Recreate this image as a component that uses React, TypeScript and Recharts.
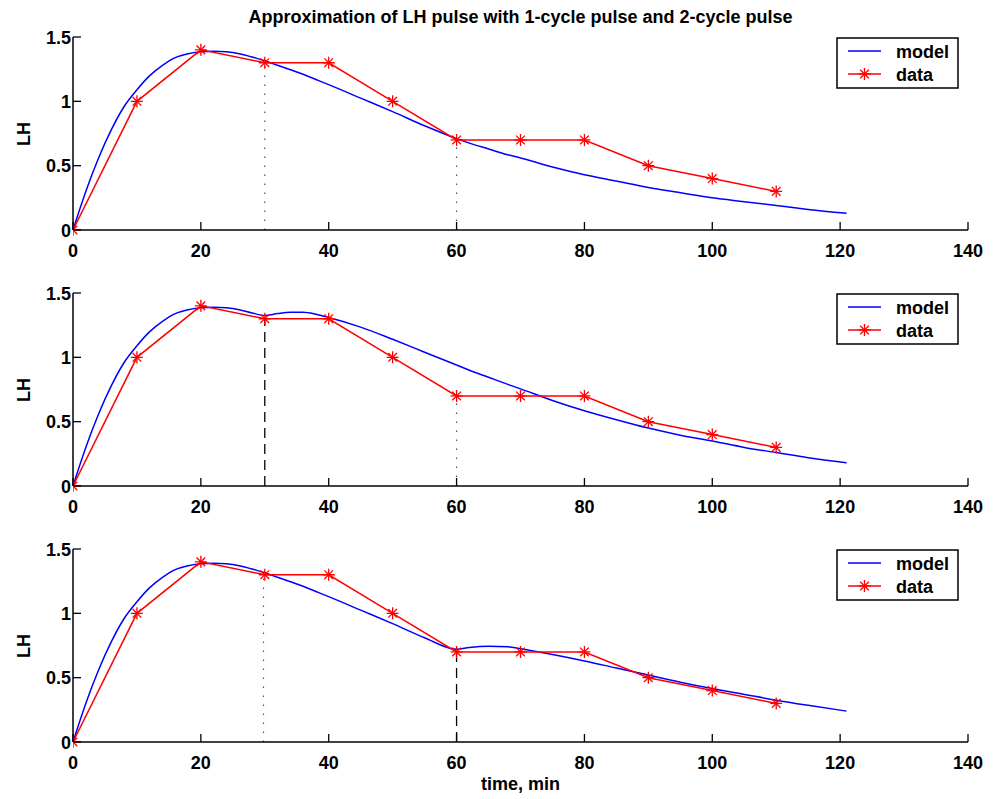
import React from "react";
import { Line, LineChart, ReferenceLine, XAxis, YAxis } from "recharts";

// measured LH samples (same in every panel)
const dataTimes = [0, 10, 20, 30, 40, 50, 60, 70, 80, 90, 100, 110];
const dataLH = [0, 1, 1.4, 1.3, 1.3, 1.0, 0.7, 0.7, 0.7, 0.5, 0.4, 0.3];

// model curves
const modelTimes = [
  0, 2, 4, 6, 8, 10, 12, 14, 16, 18, 20, 22, 24, 26, 28, 30, 32, 34, 36, 38, 40,
  45, 50, 55, 60, 62, 65, 68, 70, 75, 80, 85, 90, 95, 100, 105, 110, 115, 121,
];
const modelSingle = [
  0, 0.3, 0.56, 0.78, 0.96, 1.09, 1.2, 1.28, 1.34, 1.37, 1.385, 1.39, 1.385, 1.37,
  1.345, 1.315, 1.28, 1.245, 1.21, 1.17, 1.13, 1.025, 0.92, 0.81, 0.71, 0.675, 0.63,
  0.585, 0.56, 0.49, 0.43, 0.38, 0.33, 0.29, 0.25, 0.22, 0.19, 0.16, 0.13,
];
const modelPulse30 = [
  0, 0.3, 0.56, 0.78, 0.96, 1.09, 1.2, 1.28, 1.34, 1.37, 1.385, 1.39, 1.385, 1.37,
  1.345, 1.325, 1.34, 1.35, 1.35, 1.335, 1.31, 1.235, 1.14, 1.04, 0.94, 0.9, 0.845,
  0.79, 0.755, 0.665, 0.585, 0.515, 0.45, 0.395, 0.35, 0.3, 0.26, 0.22, 0.18,
];
const modelPulse60 = [
  0, 0.3, 0.56, 0.78, 0.96, 1.09, 1.2, 1.28, 1.34, 1.37, 1.385, 1.39, 1.385, 1.37,
  1.345, 1.315, 1.28, 1.245, 1.21, 1.17, 1.13, 1.025, 0.92, 0.81, 0.72, 0.735, 0.745,
  0.74, 0.725, 0.68, 0.63, 0.575, 0.52, 0.465, 0.415, 0.37, 0.325, 0.285, 0.24,
];

const xTicks = [0, 20, 40, 60, 80, 100, 120, 140];
const yTicks = [0, 0.5, 1, 1.5];

type Marker = { x: number; top: number; style: "dotted" | "dashed" };

const panels: { model: number[]; markers: Marker[] }[] = [
  {
    model: modelSingle,
    markers: [
      { x: 30, top: 1.3, style: "dotted" },
      { x: 60, top: 0.7, style: "dotted" },
    ],
  },
  {
    model: modelPulse30,
    markers: [
      { x: 30, top: 1.3, style: "dashed" },
      { x: 60, top: 0.7, style: "dotted" },
    ],
  },
  {
    model: modelPulse60,
    markers: [
      { x: 29.8, top: 1.3, style: "dotted" },
      { x: 60, top: 0.72, style: "dashed" },
    ],
  },
];

const FONT = "'Liberation Sans', Arial, Helvetica, sans-serif";
const PANEL_TOPS = [27, 283, 539];
const PLOT_H = 193;

function Star({ cx, cy, size = 6 }: { cx?: number; cy?: number; size?: number }) {
  if (cx == null || cy == null) return null;
  const d = size * 0.72;
  return (
    <g stroke="#ff0000" strokeWidth={1.3}>
      <line x1={cx - size} y1={cy} x2={cx + size} y2={cy} />
      <line x1={cx} y1={cy - size} x2={cx} y2={cy + size} />
      <line x1={cx - d} y1={cy - d} x2={cx + d} y2={cy + d} />
      <line x1={cx - d} y1={cy + d} x2={cx + d} y2={cy - d} />
    </g>
  );
}

function XTick({ x, y, payload }: any) {
  return (
    <g>
      <line x1={x} y1={y} x2={x} y2={y - 8} stroke="#000" strokeWidth={1.3} />
      <text x={x} y={y + 27} textAnchor="middle" fontFamily={FONT} fontWeight="bold" fontSize={18} fill="#000">
        {payload.value}
      </text>
    </g>
  );
}

function YTick({ x, y, payload }: any) {
  return (
    <g>
      <line x1={x} y1={y} x2={x + 8} y2={y} stroke="#000" strokeWidth={1.3} />
      <text x={x - 2} y={y + 6.5} textAnchor="end" fontFamily={FONT} fontWeight="bold" fontSize={18} fill="#000">
        {payload.value}
      </text>
    </g>
  );
}

function LegendBox({ top }: { top: number }) {
  return (
    <svg width={124} height={53} style={{ position: "absolute", left: 836, top, overflow: "visible" }}>
      <rect x={1} y={1} width={121} height={50} fill="#fff" stroke="#000" strokeWidth={1.5} />
      <line x1={12} y1={14} x2={45} y2={14} stroke="#0000ff" strokeWidth={1.5} />
      <line x1={12} y1={37} x2={45} y2={37} stroke="#ff0000" strokeWidth={1.5} />
      <Star cx={28.5} cy={37} />
      <text x={60} y={21} fontFamily={FONT} fontWeight="bold" fontSize={18}>model</text>
      <text x={60} y={44} fontFamily={FONT} fontWeight="bold" fontSize={18}>data</text>
    </svg>
  );
}

function Panel({ index }: { index: number }) {
  const { model, markers } = panels[index];
  const modelRows = modelTimes.map((t, i) => ({ t, v: model[i] }));
  const dataRows = dataTimes.map((t, i) => ({ t, v: dataLH[i] }));
  const top = PANEL_TOPS[index];
  return (
    <div style={{ position: "absolute", left: 0, top }}>
      <LineChart width={993} height={250} margin={{ top: 10, right: 25, bottom: 17, left: 13 }}>
        <XAxis
          type="number"
          dataKey="t"
          domain={[0, 140]}
          ticks={xTicks}
          allowDataOverflow
          tickLine={false}
          tickSize={0}
          tickMargin={0}
          height={30}
          axisLine={{ stroke: "#000", strokeWidth: 1.5 }}
          tick={<XTick />}
          interval={0}
        />
        <YAxis
          type="number"
          domain={[0, 1.5]}
          ticks={yTicks}
          tickLine={false}
          tickSize={0}
          tickMargin={0}
          width={60}
          axisLine={{ stroke: "#000", strokeWidth: 1.5 }}
          tick={<YTick />}
          interval={0}
        />
        {markers.map((m) => (
          <ReferenceLine
            key={m.x}
            segment={[
              { x: m.x, y: 0 },
              { x: m.x, y: m.top },
            ]}
            stroke={m.style === "dotted" ? "#555" : "#000"}
            strokeWidth={m.style === "dotted" ? 1.2 : 1.3}
            strokeDasharray={m.style === "dotted" ? "1.5 7.5" : "10 6"}
          />
        ))}
        <Line
          data={modelRows}
          dataKey="v"
          type="monotone"
          stroke="#0000ff"
          strokeWidth={1.5}
          dot={false}
          activeDot={false}
          isAnimationActive={false}
        />
        <Line
          data={dataRows}
          dataKey="v"
          type="linear"
          stroke="#ff0000"
          strokeWidth={1.5}
          dot={(p: any) => <Star key={p.index} cx={p.cx} cy={p.cy} />}
          activeDot={false}
          isAnimationActive={false}
        />
      </LineChart>
      <LegendBox top={10} />
      <div
        style={{
          position: "absolute",
          left: 24,
          top: 10 + PLOT_H / 2,
          transform: "translate(-50%, -50%) rotate(-90deg)",
          fontFamily: FONT,
          fontWeight: "bold",
          fontSize: 18,
          lineHeight: "18px",
          whiteSpace: "nowrap",
        }}
      >
        LH
      </div>
    </div>
  );
}

export default function App() {
  return (
    <div style={{ position: "absolute", left: 0, top: 0, width: 993, height: 799, background: "#fff" }}>
      <div
        style={{
          position: "absolute",
          left: 73,
          width: 895,
          top: 7,
          textAlign: "center",
          fontFamily: FONT,
          fontWeight: "bold",
          fontSize: 18,
          lineHeight: "20px",
          whiteSpace: "nowrap",
        }}
      >
        Approximation of LH pulse with 1-cycle pulse and 2-cycle pulse
      </div>
      {panels.map((_, i) => (
        <Panel key={i} index={i} />
      ))}
      <div
        style={{
          position: "absolute",
          left: 73,
          width: 895,
          top: 774,
          textAlign: "center",
          fontFamily: FONT,
          fontWeight: "bold",
          fontSize: 18,
          lineHeight: "20px",
        }}
      >
        time, min
      </div>
    </div>
  );
}
